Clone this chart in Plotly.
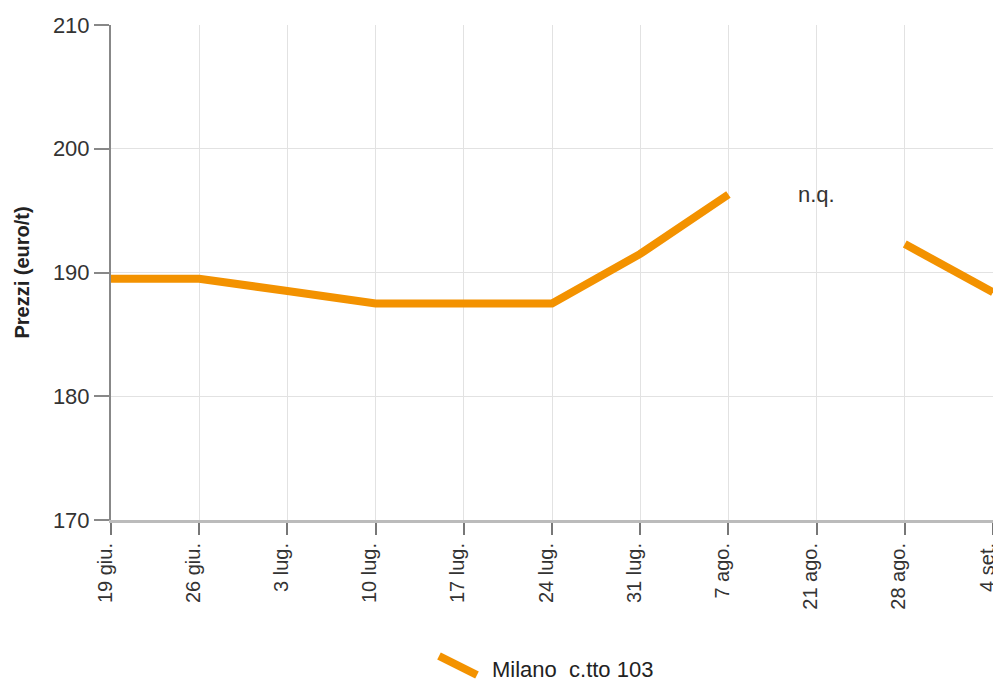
import plotly.graph_objects as go

categories = ["19 giu.", "26 giu.", "3 lug.", "10 lug.", "17 lug.", "24 lug.",
              "31 lug.", "7 ago.", "21 ago.", "28 ago.", "4 set."]
prezzi = [189.5, 189.5, 188.5, 187.5, 187.5, 187.5, 191.5, 196.3, None, 192.3, 188.4]
series_name = "Milano  c.tto 103"
y_ticks = [170, 180, 190, 200, 210]

FONT = "Liberation Sans, Arial, sans-serif"
ORANGE = "#F39200"

# the page body has an 8px margin: plot area in page px is x 111..993, y 25..520
PL, PR, PT, PB = 111, 993, 25, 520


def px(x):
    return (x - PL) / (PR - PL)


def py(y):
    return (PB - y) / (PB - PT)


fig = go.Figure()
fig.add_trace(go.Scatter(
    x=categories, y=prezzi, mode="lines", name=series_name,
    line=dict(color=ORANGE, width=8), connectgaps=False, showlegend=False,
))

fig.add_annotation(x="21 ago.", y=196.3, text="n.q.", showarrow=False,
                   font=dict(family=FONT, size=22, color="#333"), xref="x", yref="y")

# legend drawn manually (slanted symbol)
fig.add_shape(type="line", xref="paper", yref="paper",
              x0=px(439), y0=py(656), x1=px(477), y1=py(675),
              line=dict(color=ORANGE, width=8))
fig.add_annotation(xref="paper", yref="paper", x=px(490), y=py(669),
                   text=series_name, showarrow=False, xanchor="left", yanchor="middle",
                   font=dict(family=FONT, size=22, color="#222"))

fig.update_layout(
    width=1001, height=682,
    margin=dict(l=PL - 8, r=1001 - (PR - 8), t=PT - 8, b=682 - (PB - 8), autoexpand=False),
    paper_bgcolor="white", plot_bgcolor="white",
    font=dict(family=FONT, color="#333", size=22),
    showlegend=False,
)
fig.update_xaxes(
    type="category", categoryorder="array", categoryarray=categories,
    range=[0, len(categories) - 1], automargin=False,
    tickangle=-90, ticks="outside", ticklen=12, tickwidth=2, tickcolor="#777",
    ticklabelshift=-6,
    showgrid=True, gridcolor="#e2e2e2", gridwidth=1,
    showline=True, linecolor="#bbbbbb", linewidth=3,
    tickfont=dict(family=FONT, size=20, color="#333"),
)
fig.update_yaxes(
    range=[170, 210], tickvals=y_ticks, ticktext=[str(v) for v in y_ticks],
    automargin=False,
    ticks="outside", ticklen=15, tickwidth=2, tickcolor="#888",
    showgrid=True, gridcolor="#e2e2e2", gridwidth=1,
    showline=True, linecolor="#888888", linewidth=2,
    zeroline=False,
    tickfont=dict(family=FONT, size=22, color="#333"),
    title=dict(text="<b>Prezzi (euro/t)</b>", font=dict(family=FONT, size=20, color="#222"), standoff=18),
)

fig.write_html("out.html")
